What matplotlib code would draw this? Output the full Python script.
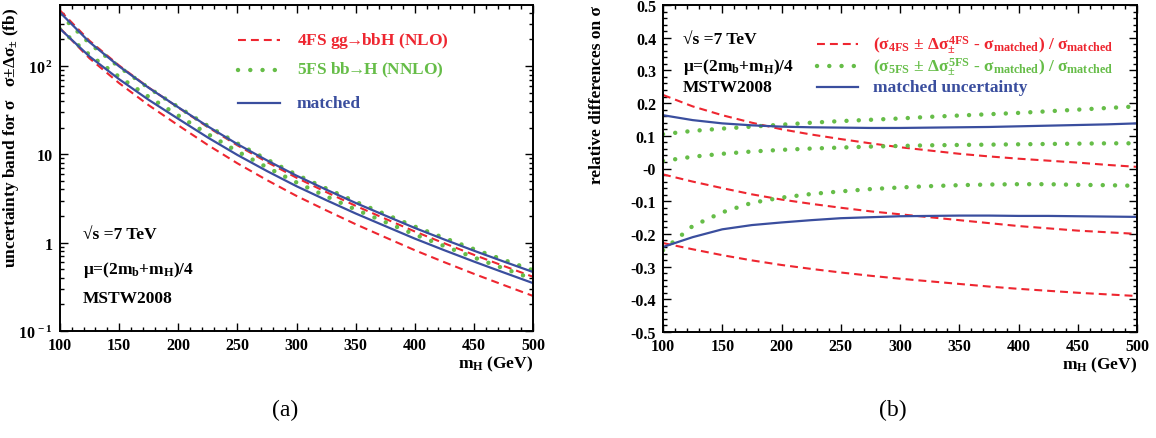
import numpy as np
import matplotlib
matplotlib.use("Agg")
import matplotlib.pyplot as plt
from matplotlib.ticker import (FixedLocator, FixedFormatter, MultipleLocator,
                               LogLocator, NullFormatter)

# Higgs mass grid (GeV)
mass = [100, 125, 150, 175, 200, 225, 250, 275, 300,
        325, 350, 375, 400, 425, 450, 475, 500]

# matched central cross section (fb)
sigma_matched = [347, 162, 87, 50, 30.2, 18.4, 11.6, 7.6, 5.1,
                 3.55, 2.5, 1.8, 1.3, 0.96, 0.716, 0.54, 0.409]

# relative differences w.r.t. matched
rel_4fs_up = [0.225, 0.19, 0.163, 0.14, 0.12, 0.104, 0.09, 0.077, 0.065,
              0.055, 0.045, 0.037, 0.03, 0.024, 0.018, 0.011, 0.005]
rel_4fs_central = [-0.018, -0.04, -0.06, -0.079, -0.095, -0.108, -0.12, -0.131, -0.14,
                   -0.149, -0.158, -0.167, -0.176, -0.183, -0.19, -0.195, -0.20]
rel_4fs_down = [-0.228, -0.247, -0.265, -0.281, -0.295, -0.307, -0.318, -0.328, -0.337,
                -0.345, -0.353, -0.361, -0.368, -0.374, -0.38, -0.385, -0.39]
rel_5fs_up = [0.105, 0.115, 0.122, 0.128, 0.134, 0.14, 0.145, 0.149, 0.153,
              0.158, 0.162, 0.166, 0.170, 0.175, 0.180, 0.185, 0.19]
rel_5fs_central = [0.023, 0.036, 0.045, 0.052, 0.057, 0.061, 0.064, 0.067, 0.069,
                   0.071, 0.072, 0.073, 0.074, 0.075, 0.076, 0.077, 0.077]
rel_5fs_down = [-0.25, -0.176, -0.134, -0.105, -0.089, -0.078, -0.07, -0.063, -0.058,
                -0.054, -0.051, -0.049, -0.048, -0.048, -0.05, -0.051, -0.053]
rel_matched_up = [0.163, 0.148, 0.138, 0.132, 0.128, 0.126, 0.125, 0.124, 0.124,
                  0.125, 0.126, 0.127, 0.129, 0.131, 0.133, 0.135, 0.138]
rel_matched_down = [-0.24, -0.21, -0.186, -0.173, -0.165, -0.158, -0.152, -0.149, -0.146,
                    -0.145, -0.144, -0.144, -0.145, -0.145, -0.146, -0.147, -0.148]

log_ticks = [0.1, 1, 10, 100]
log_tick_labels = [r'$10^{\,-1}$', '1', '10', r'$10^{\,2}$']
rel_ticks = [-0.5, -0.4, -0.3, -0.2, -0.1, 0.0, 0.1, 0.2, 0.3, 0.4, 0.5]
rel_tick_labels = ['-0.5', '-0.4', '-0.3', '-0.2', '-0.1', '-0',
                   '0.1', '0.2', '0.3', '0.4', '0.5']

RED = '#ee2630'
GREEN = '#66bd48'
BLUE = '#3a4e9e'

dashed = dict(color=RED, lw=1.5, ls=(0, (3.8, 2.4)))
dotted = dict(color=GREEN, lw=3.2, ls=(0, (0.01, 2.75)), dash_capstyle='round')
solid = dict(color=BLUE, lw=1.6)

plt.rcParams['font.family'] = ['Liberation Serif', 'DejaVu Serif']
plt.rcParams['font.weight'] = 'bold'
plt.rcParams['axes.labelweight'] = 'bold'
plt.rcParams['mathtext.fontset'] = 'custom'
plt.rcParams['mathtext.rm'] = 'Liberation Serif:bold'
plt.rcParams['mathtext.it'] = 'Liberation Serif:bold'
plt.rcParams['mathtext.bf'] = 'Liberation Serif:bold'
plt.rcParams['mathtext.fallback'] = 'stix'
plt.rcParams['axes.unicode_minus'] = False
plt.rcParams['axes.linewidth'] = 1.4

FS = 12.5
W, H = 1156, 439


def style_axis(ax):
    """ROOT-like ticks on all four sides"""
    ax.tick_params(which='both', direction='in', top=True, right=True,
                   labelsize=11.5, width=1.0)
    ax.tick_params(which='major', length=5.8)
    ax.tick_params(which='minor', length=2.9)
    ax.tick_params(axis='x', pad=4)
    ax.tick_params(axis='y', pad=5)
    ax.xaxis.set_major_locator(MultipleLocator(50))
    ax.xaxis.set_minor_locator(MultipleLocator(10))
    ax.set_xlim(100, 500)
    ax.set_xlabel(r'$m_{H}$ (GeV)', loc='right', fontsize=FS, labelpad=1)


def legend_row(ax, y, x0, x1, xt, style, label):
    """draws one legend entry: a line sample and a coloured label"""
    ax.plot([x0, x1], [y, y], transform=ax.transAxes, clip_on=False, **style)
    ax.text(xt, y, label, transform=ax.transAxes, color=style['color'],
            fontsize=FS, va='center', ha='left')


def main():
    m = np.array(mass)
    sm = np.array(sigma_matched)

    fig = plt.figure(figsize=(W / 100, H / 100), dpi=100)
    ax1 = fig.add_axes([60 / W, 1 - 332 / H, 473 / W, 326 / H])
    ax2 = fig.add_axes([663 / W, 1 - 333 / H, 474 / W, 327 / H])

    # (a) uncertainty bands
    for rel in (rel_4fs_up, rel_4fs_down):
        ax1.plot(m, sm * (1 + np.array(rel)), **dashed)
    for rel in (rel_5fs_up, rel_5fs_down):
        ax1.plot(m, sm * (1 + np.array(rel)), **dotted)
    for rel in (rel_matched_up, rel_matched_down):
        ax1.plot(m, sm * (1 + np.array(rel)), **solid)

    ax1.set_yscale('log')
    ax1.set_ylim(0.1, 490)
    style_axis(ax1)
    ax1.yaxis.set_major_locator(FixedLocator(log_ticks))
    ax1.yaxis.set_major_formatter(FixedFormatter(log_tick_labels))
    ax1.yaxis.set_minor_locator(LogLocator(base=10, subs=range(2, 10)))
    ax1.yaxis.set_minor_formatter(NullFormatter())
    ax1.set_ylabel(r'uncertainty band for σ   σ±Δ$\sigma_{\pm}$ (fb)',
                   loc='top', fontsize=FS)
    ax1.yaxis.set_label_coords(-0.083, 0.995)

    legend_row(ax1, 0.893, 0.376, 0.465, 0.501, dashed,
               r'4FS gg$\!\!\rightarrow\!\!$bbH (NLO)')
    legend_row(ax1, 0.801, 0.376, 0.465, 0.501, dotted,
               r'5FS bb$\!\!\rightarrow\!\!$H (NNLO)')
    legend_row(ax1, 0.699, 0.376, 0.465, 0.501, solid, 'matched')

    ax1.text(0.049, 0.298, '√s =7 TeV', transform=ax1.transAxes,
             fontsize=FS, va='center')
    ax1.text(0.049, 0.190, r'μ=(2$m_{b}$+$m_{H}$)/4', transform=ax1.transAxes,
             fontsize=FS, va='center')
    ax1.text(0.049, 0.101, 'MSTW2008', transform=ax1.transAxes,
             fontsize=FS, va='center')

    # (b) relative differences
    for rel in (rel_4fs_up, rel_4fs_central, rel_4fs_down):
        ax2.plot(m, rel, **dashed)
    for rel in (rel_5fs_up, rel_5fs_central, rel_5fs_down):
        ax2.plot(m, rel, **dotted)
    for rel in (rel_matched_up, rel_matched_down):
        ax2.plot(m, rel, **solid)

    ax2.set_ylim(-0.5, 0.5)
    style_axis(ax2)
    ax2.yaxis.set_major_locator(FixedLocator(rel_ticks))
    ax2.yaxis.set_major_formatter(FixedFormatter(rel_tick_labels))
    ax2.yaxis.set_minor_locator(MultipleLocator(0.02))
    ax2.set_ylabel('relative differences on σ', loc='top', fontsize=FS)
    ax2.yaxis.set_label_coords(-0.122, 1.0)

    legend_row(ax2, 0.881, 0.325, 0.411, 0.443, dashed,
               r'($\sigma_{4FS}$ $\pm$ $\Delta\sigma^{4FS}_{\pm}$ - '
               r'$\sigma_{matched}$) / $\sigma_{matched}$')
    legend_row(ax2, 0.813, 0.325, 0.411, 0.443, dotted,
               r'($\sigma_{5FS}$ $\pm$ $\Delta\sigma^{5FS}_{\pm}$ - '
               r'$\sigma_{matched}$) / $\sigma_{matched}$')
    legend_row(ax2, 0.749, 0.325, 0.411, 0.443, solid, 'matched uncertainty')

    ax2.text(0.042, 0.896, '√s =7 TeV', transform=ax2.transAxes,
             fontsize=FS, va='center')
    ax2.text(0.042, 0.813, r'μ=(2$m_{b}$+$m_{H}$)/4', transform=ax2.transAxes,
             fontsize=FS, va='center')
    ax2.text(0.042, 0.749, 'MSTW2008', transform=ax2.transAxes,
             fontsize=FS, va='center')

    fig.text(285 / W, 1 - 410 / H, '(a)', ha='center', va='center',
             fontsize=17, fontweight='normal')
    fig.text(893 / W, 1 - 410 / H, '(b)', ha='center', va='center',
             fontsize=17, fontweight='normal')

    fig.savefig('out.png', dpi=100)


if __name__ == "__main__":
    main()
